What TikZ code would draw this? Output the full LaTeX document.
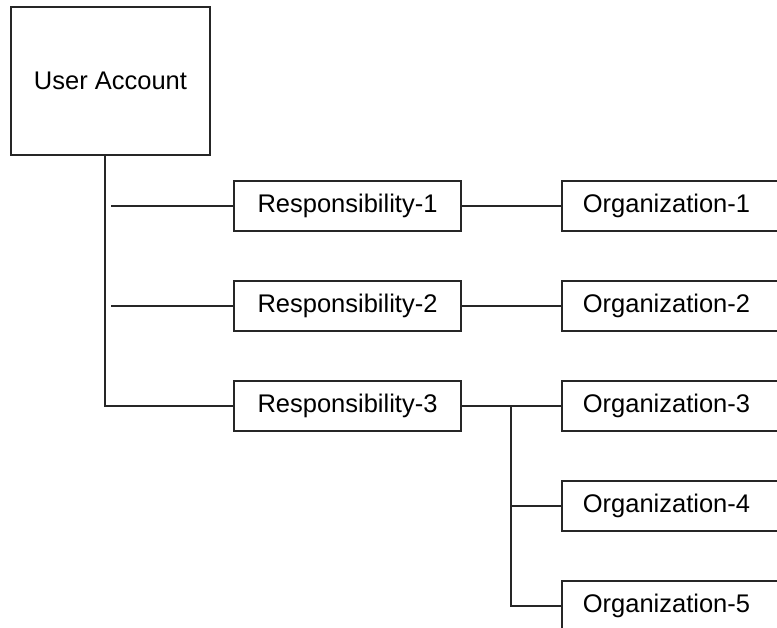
\documentclass[tikz,border=0pt]{standalone}
\usepackage{fontspec}
\setmainfont{Liberation Sans}
\begin{document}
\begin{tikzpicture}[x=1pt,y=-1pt,
  every node/.style={font=\fontsize{25.5}{30}\selectfont},
  link/.style={line width=1.7pt, black!85},
  acctbox/.style={draw=black!85, line width=1.7pt, minimum width=199pt, minimum height=148pt, inner sep=0pt},
  respbox/.style={draw=black!85, line width=1.7pt, minimum width=227pt, minimum height=50pt, inner sep=0pt},
  orgbox/.style={draw=black!85, line width=1.7pt, anchor=west, minimum height=50pt, text width=200pt, inner xsep=21pt, inner ysep=0pt, align=left}]
  \clip (0,0) rectangle (777,628);
  \fill[white] (0,0) rectangle (777,628);

  % account and responsibilities
  \node[acctbox] (acct) at (110.5,81) {User Account};
  \node[respbox] (r1) at (347.5,206) {Responsibility-1};
  \node[respbox] (r2) at (347.5,306) {Responsibility-2};
  \node[respbox] (r3) at (347.5,406) {Responsibility-3};

  % organizations
  \node[orgbox] (o1) at (561,206) {Organization-1};
  \node[orgbox] (o2) at (561,306) {Organization-2};
  \node[orgbox] (o3) at (561,406) {Organization-3};
  \node[orgbox] (o4) at (561,506) {Organization-4};
  \node[orgbox] (o5) at (561,606) {Organization-5};

  % trunk from the account down to the third responsibility
  \coordinate (trunk) at (105,155);
  \coordinate (b1) at (111,206);
  \coordinate (b2) at (111,306);
  \draw[link] (trunk) |- (r3.west);
  \draw[link] (b1) -- (r1.west);
  \draw[link] (b2) -- (r2.west);

  % responsibilities to organizations
  \draw[link] (r1.east) -- (o1.west);
  \draw[link] (r2.east) -- (o2.west);
  \draw[link] (r3.east) -- (o3.west);
  \coordinate (fork) at (511,406);
  \draw[link] (fork) |- (o5.west);
  \draw[link] (fork) |- (o4.west);
\end{tikzpicture}
\end{document}
